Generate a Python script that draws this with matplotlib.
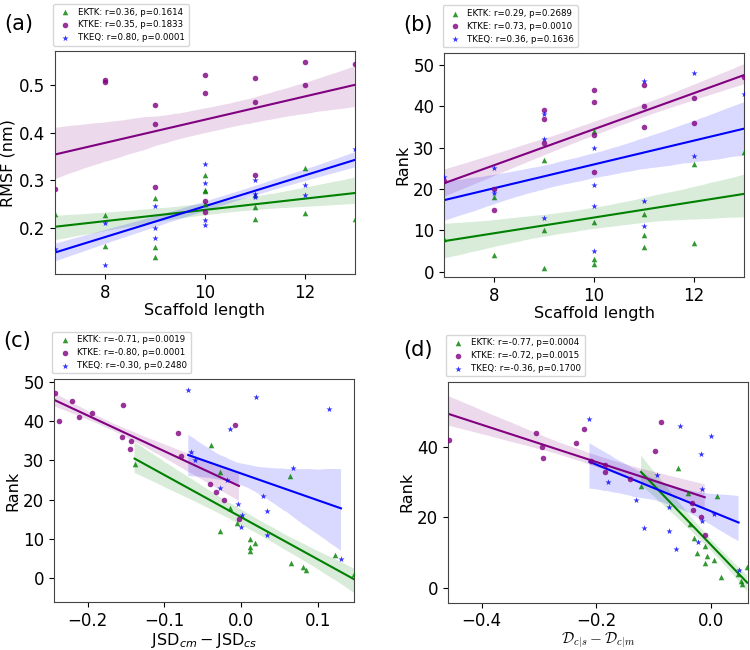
import numpy as np
import seaborn as sns
from matplotlib import pyplot as plt

# scaffold lengths shared by the three groups (16 scaffolds each)
length = [7, 8, 8, 9, 9, 9, 10, 10, 10, 10, 11, 11, 11, 12, 12, 13]

# (a) RMSF (nm)
rmsf_ektk = [0.230, 0.227, 0.162, 0.263, 0.160, 0.139, 0.310, 0.280, 0.277, 0.250,
             0.270, 0.245, 0.218, 0.326, 0.231, 0.218]
rmsf_ktke = [0.282, 0.509, 0.506, 0.457, 0.418, 0.286, 0.521, 0.482, 0.257, 0.233,
             0.515, 0.464, 0.310, 0.547, 0.499, 0.543]
rmsf_tkeq = [0.157, 0.210, 0.122, 0.247, 0.200, 0.178, 0.334, 0.294, 0.217, 0.206,
             0.300, 0.272, 0.265, 0.291, 0.270, 0.365]

# (b) rank vs scaffold length
rank_ektk = [8, 18, 4, 27, 10, 1, 34, 12, 3, 2, 14, 9, 6, 26, 7, 29]
rank_ktke = [22, 20, 15, 39, 37, 31, 44, 41, 33, 24, 45, 40, 35, 42, 36, 47]
rank_tkeq = [23, 25, 19, 38, 32, 13, 30, 21, 16, 5, 46, 17, 11, 48, 28, 43]

# (c) JSD_cm - JSD_cs, listed with matching ranks
jsd_rank_ektk = [29, 34, 27, 26, 18, 14, 12, 10, 8, 7, 9, 4, 3, 2, 6, 1]
jsd_ektk = [-0.139, -0.040, -0.028, 0.063, -0.015, -0.005, -0.027, 0.011, 0.011, 0.011,
            0.018, 0.065, 0.081, 0.085, 0.122, 0.147]
jsd_rank_ktke = [47, 40, 45, 41, 42, 44, 36, 35, 33, 37, 31, 39, 24, 22, 20, 15]
jsd_ktke = [-0.243, -0.238, -0.221, -0.211, -0.195, -0.154, -0.155, -0.143, -0.145,
            -0.083, -0.079, -0.008, -0.041, -0.033, -0.022, -0.003]
jsd_rank_tkeq = [48, 46, 43, 38, 32, 30, 28, 25, 23, 21, 19, 17, 16, 13, 11, 5]
jsd_tkeq = [-0.069, 0.019, 0.114, -0.015, -0.065, -0.060, 0.068, -0.019, -0.028, 0.029,
            -0.004, 0.034, 0.001, 0.000, 0.033, 0.130]

# (d) D_c|s - D_c|m, listed with matching ranks
d_rank_ektk = [29, 34, 27, 26, 18, 14, 12, 10, 9, 7, 8, 3, 4, 6, 2, 1]
d_ektk = [-0.122, -0.058, -0.041, 0.011, -0.037, -0.030, -0.011, -0.024, -0.007, -0.011,
          0.006, 0.018, 0.047, 0.063, 0.052, 0.054]
d_rank_ktke = [42, 44, 40, 37, 41, 45, 36, 35, 33, 31, 39, 47, 24, 22, 20, 15]
d_ktke = [-0.457, -0.306, -0.295, -0.293, -0.235, -0.221, -0.210, -0.185, -0.184,
          -0.142, -0.098, -0.088, -0.033, -0.031, -0.018, -0.011]
d_rank_tkeq = [48, 46, 43, 38, 32, 30, 28, 25, 23, 21, 19, 17, 16, 13, 11, 5]
d_tkeq = [-0.212, -0.054, 0.000, -0.017, -0.094, -0.180, -0.016, -0.131, -0.074, 0.005,
          -0.016, -0.117, -0.074, -0.022, -0.061, 0.048]

stats = {
    'a': ['r=0.36, p=0.1614', 'r=0.35, p=0.1833', 'r=0.80, p=0.0001'],
    'b': ['r=0.29, p=0.2689', 'r=0.73, p=0.0010', 'r=0.36, p=0.1636'],
    'c': ['r=-0.71, p=0.0019', 'r=-0.80, p=0.0001', 'r=-0.30, p=0.2480'],
    'd': ['r=-0.77, p=0.0004', 'r=-0.72, p=0.0015', 'r=-0.36, p=0.1700'],
}
names = ['EKTK', 'KTKE', 'TKEQ']
colors = ['green', 'purple', 'blue']
markers = ['^', 'o', '*']
sizes = [16, 16, 22]

fig = plt.figure(figsize=(7.5, 6.5), dpi=100)

panels = [
    ('a', [0.073, 0.578, 0.40, 0.343], (0.006, 0.963),
     [(length, rmsf_ektk), (length, rmsf_ktke), (length, rmsf_tkeq)],
     'Scaffold length', 'RMSF (nm)', (7, 13), (0.103, 0.570), [8, 10, 12], [0.2, 0.3, 0.4, 0.5]),
    ('b', [0.592, 0.574, 0.40, 0.345], (0.538, 0.962),
     [(length, rank_ektk), (length, rank_ktke), (length, rank_tkeq)],
     'Scaffold length', 'Rank', (7, 13), (-1.2, 52.9), [8, 10, 12], [0, 10, 20, 30, 40, 50]),
    ('c', [0.072, 0.074, 0.40, 0.343], (0.004, 0.476),
     [(jsd_ektk, jsd_rank_ektk), (jsd_ktke, jsd_rank_ktke), (jsd_tkeq, jsd_rank_tkeq)],
     r'$\mathrm{JSD}_{cm} - \mathrm{JSD}_{cs}$', 'Rank', (-0.244, 0.147), (-6.0, 50.7),
     [-0.2, -0.1, 0.0, 0.1], [0, 10, 20, 30, 40, 50]),
    ('d', [0.597, 0.073, 0.40, 0.3395], (0.538, 0.462),
     [(d_ektk, d_rank_ektk), (d_ktke, d_rank_ktke), (d_tkeq, d_rank_tkeq)],
     r'$\mathcal{D}_{c|s} - \mathcal{D}_{c|m}$', 'Rank', (-0.459, 0.064), (-4.2, 58.5),
     [-0.4, -0.2, 0.0], [0, 20, 40]),
]

for tag, pos, lab_xy, series, xlabel, ylabel, xlim, ylim, xt, yt in panels:
    ax = fig.add_axes(pos)
    for i, (x, y) in enumerate(series):
        ax.scatter(x, y, marker=markers[i], color=colors[i], s=sizes[i], alpha=0.8,
                   linewidths=0, label=f'{names[i]}: {stats[tag][i]}', zorder=3)
        sns.regplot(x=np.array(x, float), y=np.array(y, float), ax=ax, scatter=False,
                    color=colors[i], ci=68, seed=0, line_kws={'lw': 1.5})
    ax.set_xlim(xlim)
    ax.set_ylim(ylim)
    ax.set_xticks(xt)
    ax.set_yticks(yt)
    ax.tick_params(labelsize=12)
    if tag == 'd':
        ax.set_xlabel(xlabel, fontsize=11, labelpad=0, math_fontfamily='cm')
    else:
        ax.set_xlabel(xlabel, fontsize=11.5, labelpad=1)
    ax.set_ylabel(ylabel, fontsize=11.5, labelpad=2)
    for sp in ax.spines.values():
        sp.set_color('#444444')
    ax.legend(loc='lower left', bbox_to_anchor=(-0.005, 1.025), fontsize=6.2,
              borderaxespad=0, handletextpad=0.5, labelspacing=0.45)
    fig.text(lab_xy[0], lab_xy[1], f'({tag})', fontsize=15, va='center')

plt.savefig('out.png', dpi=100)
